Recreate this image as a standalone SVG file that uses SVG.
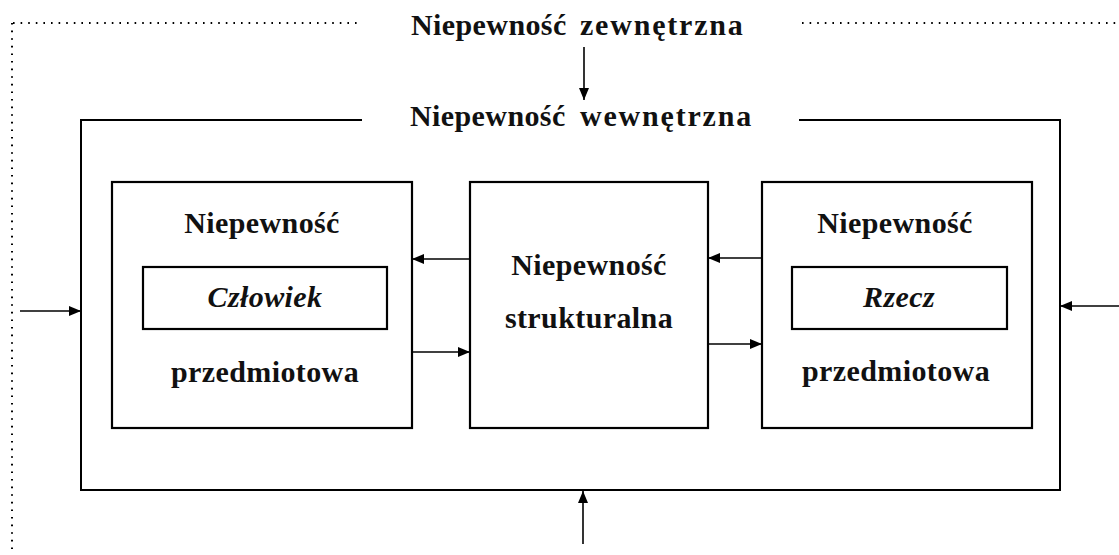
<svg xmlns="http://www.w3.org/2000/svg" width="1119" height="555" viewBox="0 0 1119 555">
  <style>
    .box { fill: none; stroke: #000; stroke-width: 2.2; }
    .frame { fill: none; stroke: #000; stroke-width: 2; }
    .dots { fill: none; stroke: #000; stroke-width: 2; stroke-dasharray: 1.6 6; }
    .conn { fill: none; stroke: #000; stroke-width: 1.6; }
    .lbl { font-family: "Liberation Serif", "Times New Roman", serif; font-weight: bold; font-size: 30px; fill: #111; text-anchor: middle; letter-spacing: 0.4px; }
    .ttl { font-family: "Liberation Serif", "Times New Roman", serif; font-weight: bold; font-size: 30px; fill: #111; letter-spacing: 0.4px; }
    .wide { letter-spacing: 1.8px; }
    .it { font-style: italic; }
  </style>
  <defs>
    <marker id="arrow" markerWidth="12" markerHeight="10" refX="12" refY="5" orient="auto" markerUnits="userSpaceOnUse">
      <path d="M0,0 L12,5 L0,10 Z" fill="#000"/>
    </marker>
  </defs>
  <rect width="1119" height="555" fill="#fff"/>

  <!-- environment boundary (dotted, open on right and bottom) -->
  <g id="environment">
    <path class="dots" d="M13,23 H362 M802,23 H1118 M12,23 V555"/>
    <text class="ttl" y="35"><tspan x="411">Niepewność</tspan><tspan class="wide" x="580">zewnętrzna</tspan></text>
  </g>

  <!-- system frame with title sitting in the gap of the top edge -->
  <g id="system">
    <path class="frame" d="M362,120 H81 V490 H1060 V120 H799"/>
    <text class="ttl" y="126"><tspan x="410">Niepewność</tspan><tspan class="wide" x="580">wewnętrzna</tspan></text>
  </g>

  <g id="human">
    <rect class="box" x="112" y="182" width="300" height="246"/>
    <text class="lbl" x="262" y="233">Niepewność</text>
    <rect class="box" x="143" y="267" width="244" height="62"/>
    <text class="lbl it" x="265" y="307">Człowiek</text>
    <text class="lbl" x="265" y="382">przedmiotowa</text>
  </g>

  <g id="structure">
    <rect class="box" x="470" y="182" width="238" height="246"/>
    <text class="lbl" x="589" y="275">Niepewność</text>
    <text class="lbl" x="589" y="328">strukturalna</text>
  </g>

  <g id="thing">
    <rect class="box" x="762" y="182" width="270" height="246"/>
    <text class="lbl" x="895" y="233">Niepewność</text>
    <rect class="box" x="792" y="267" width="215" height="62"/>
    <text class="lbl it" x="899" y="307">Rzecz</text>
    <text class="lbl" x="896" y="381">przedmiotowa</text>
  </g>

  <g id="connectors">
    <line class="conn" x1="584" y1="47" x2="584" y2="100" marker-end="url(#arrow)"/>
    <line class="conn" x1="20" y1="311" x2="81" y2="311" marker-end="url(#arrow)"/>
    <line class="conn" x1="1119" y1="306" x2="1060" y2="306" marker-end="url(#arrow)"/>
    <line class="conn" x1="583" y1="544" x2="583" y2="491" marker-end="url(#arrow)"/>
    <line class="conn" x1="470" y1="259" x2="412" y2="259" marker-end="url(#arrow)"/>
    <line class="conn" x1="412" y1="352" x2="470" y2="352" marker-end="url(#arrow)"/>
    <line class="conn" x1="762" y1="258" x2="708" y2="258" marker-end="url(#arrow)"/>
    <line class="conn" x1="708" y1="344" x2="762" y2="344" marker-end="url(#arrow)"/>
  </g>
</svg>
